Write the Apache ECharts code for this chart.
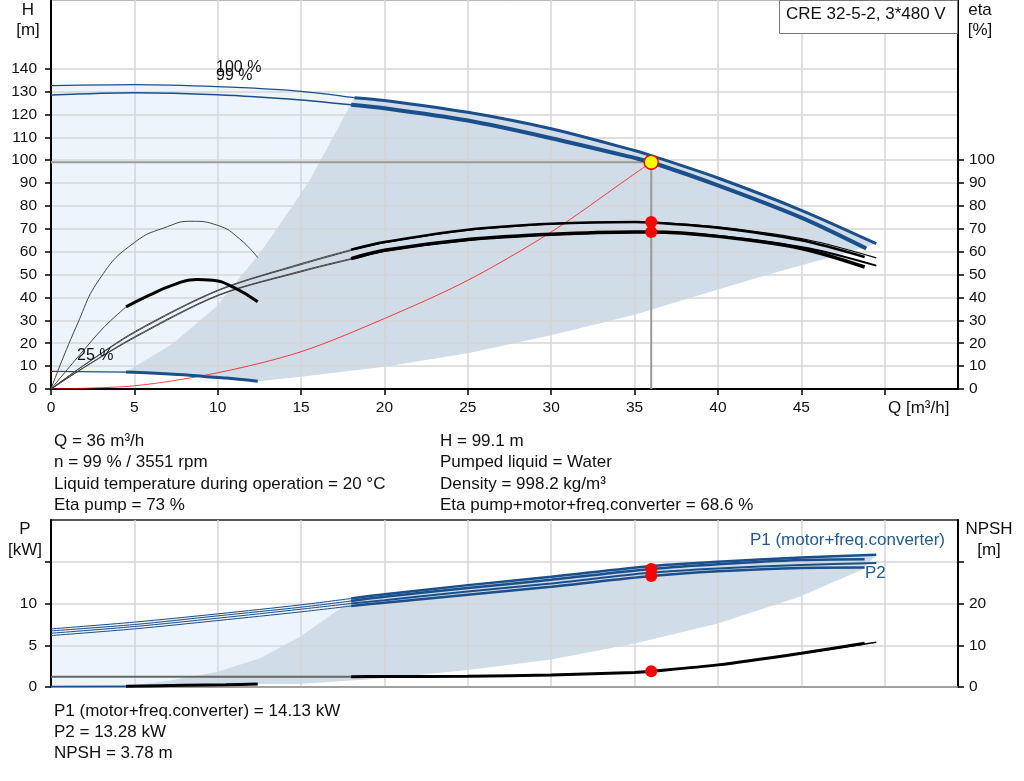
<!DOCTYPE html>
<html><head><meta charset="utf-8">
<script src="https://cdn.jsdelivr.net/npm/echarts@6/dist/echarts.min.js"></script>
<style>html,body{margin:0;padding:0;background:#fff}#c{width:1024px;height:781px}</style>
</head><body><div id="c"></div>
<script>
// ---------------- data ----------------
const qTickVals  = [0,5,10,15,20,25,30,35,40,45,50];
const qLabelVals = [0,5,10,15,20,25,30,35,40,45];
const hTicks   = [0,10,20,30,40,50,60,70,80,90,100,110,120,130,140];
const etaTicks = [0,10,20,30,40,50,60,70,80,90,100];
const pTicks = [0,5,10,15];
const pLabels = [0,5,10];
const npshTicks = [0,10,20,30];
const npshLabels = [0,10,20];

// head curves (m) at 100 % and 99 % speed
const hQ100 = [0, 5, 10, 15, 18.2, 20, 25, 30, 35, 36, 40, 45, 49.5];
const h100  = [132.6, 133.0, 132.1, 130.1, 127.3, 126.1, 120.9, 113.7, 104.2, 102.0, 92.2, 78.1, 63.5];
const hQ99  = [0, 5, 10, 15, 18, 20, 25, 30, 35, 36, 40, 45, 48.9];
const h99   = [128.5, 129.5, 128.6, 126.3, 124.2, 122.7, 117.3, 109.6, 101.0, 99.1, 89.0, 74.9, 61.4];

// efficiency curves (%)
const etaQ     = [0, 2, 5, 10, 15, 18, 20, 25, 30, 35, 36, 40, 45, 48.8];
const etaPump  = [0, 10.5, 25.0, 43.2, 54.8, 60.9, 64.2, 69.6, 72.2, 73.0, 72.8, 70.5, 65.0, 57.7];
const etaTotal = [0, 9.5, 22.8, 41.0, 51.6, 57.0, 60.6, 65.3, 67.6, 68.6, 68.6, 66.7, 61.4, 53.3];
const etaQ100     = [0, 2, 5.1, 10.1, 15.2, 18.2, 20.2, 25.3, 30.3, 35.4, 36.4, 40.4, 45.5, 49.5];
const etaPump100  = [0, 10.5, 25.0, 43.2, 54.8, 60.9, 64.2, 69.6, 72.2, 73.0, 72.8, 70.5, 65.0, 57.3];
const etaTotal100 = [0, 9.5, 22.8, 41.0, 51.6, 57.0, 60.6, 65.3, 67.6, 68.6, 68.6, 66.7, 61.4, 53.9];

// min-speed efficiency arcs
const arcThinQ  = [0, 1.5, 3, 5, 7, 8.4, 10, 11.3, 12.4];
const arcThin   = [0, 27, 49, 64, 71, 73.3, 71.5, 65.7, 57.4];
const arcLeadQ  = [0, 1.8, 3.2, 4.5];
const arcLead   = [0, 15.6, 27.2, 35.9];
const arcThickQ = [4.5, 5.9, 7.3, 8.7, 9.7, 10.9, 12.4];
const arcThick  = [35.9, 41.0, 45.4, 47.9, 47.5, 44.6, 38.1];

// 25 % speed head curve
const h25Q = [0, 4.5, 6, 8, 9.3, 10.5, 12.4];
const h25  = [7.7, 7.4, 7.0, 6.2, 5.4, 4.8, 3.4];

// system curve
const sysQ = [0, 5, 10, 15, 20, 25, 30, 34.7, 36];
const sysH = [0, 1.4, 7.1, 16.3, 30.8, 47.5, 68.6, 92.5, 99.1];

// duty point
const opQ = 36, opH = 99.1, opEtaPump = 73, opEtaTotal = 68.6;
const opP1 = 14.13, opP2 = 13.28, opNPSH = 3.78;

// operating-range areas (top chart)
const lightTopQ = [0, 0, 5, 10, 15, 18.2, 15.5, 14.3, 12.5, 9.9, 7.3, 4.5];
const lightTopH = [7.7, 132.6, 133.0, 132.1, 130.1, 127.3, 91.1, 78, 59.2, 35.9, 19.9, 7.4];
const grayTopQ = [18.2, 20, 25, 30, 35, 36, 40, 45, 49.5, 46.7, 43.5, 40, 35, 30, 25, 20, 15, 12.4, 10.5, 9.3, 8, 6, 4.5, 7.3, 9.9, 12.5, 14.3, 15.5];
const grayTopH = [127.3, 126.1, 120.9, 113.7, 104.2, 102.0, 92.2, 78.1, 63.5, 57.5, 51, 43.5, 32.5, 23.5, 15.6, 9.7, 5.4, 3.4, 4.8, 5.4, 6.2, 7.0, 7.4, 19.9, 35.9, 59.2, 78, 91.1];

// power curves (kW)
const pQ100 = [0, 5, 10, 15, 18, 20, 25, 30, 36, 40, 45, 49.5];
const pQ99  = [0, 5, 10, 15, 18, 20, 25, 30, 36, 40, 45, 48.8];
const p1_100 = [6.96, 7.77, 8.76, 9.84, 10.6, 11.1, 12.2, 13.2, 14.5, 15.0, 15.5, 15.85];
const p1_99  = [6.72, 7.48, 8.52, 9.56, 10.3, 10.8, 11.85, 12.85, 14.13, 14.7, 15.2, 15.3];
const p2_100 = [6.44, 7.24, 8.24, 9.32, 10.0, 10.4, 11.45, 12.4, 13.7, 14.2, 14.6, 14.85];
const p2_99  = [6.16, 6.96, 7.96, 9.0, 9.7, 10.1, 11.05, 12.0, 13.28, 13.85, 14.25, 14.3];
const p25Q = [0, 4.5, 8, 10.5, 12.4];
const p25  = [0.05, 0.1, 0.2, 0.28, 0.36];

// NPSH (m)
const npshQ = [0, 18, 20, 25, 30, 35, 36, 40, 45, 48.8];
const npsh  = [2.47, 2.47, 2.5, 2.6, 2.9, 3.5, 3.78, 5.3, 8.1, 10.5];
const npshEndQ = [45, 49.5];
const npshEnd  = [8.0, 10.7];

// operating-range areas (bottom chart)
const lightBotQ = [0, 0, 5, 10, 15, 18, 17.5, 14.9, 12.5, 9.9, 7.3, 4.5];
const lightBotP = [0.05, 6.96, 7.77, 8.76, 9.84, 10.6, 9.6, 6.0, 3.4, 1.8, 0.84, 0.1];
const grayBotQ = [18, 20, 25, 30, 36, 40, 45, 49.5, 48.6, 44.9, 40, 35, 30, 25, 20, 14.9, 12.4, 10.5, 8, 4.5, 7.3, 9.9, 12.5, 14.9, 17.5];
const grayBotP = [10.6, 11.1, 12.2, 13.2, 14.5, 15.0, 15.5, 15.85, 14.0, 10.8, 7.6, 5.2, 3.3, 2.04, 1.04, 0.36, 0.36, 0.28, 0.2, 0.1, 0.84, 1.8, 3.4, 6.0, 9.6];

// ---------------- helpers ----------------
const FONT = '"Liberation Sans", Arial, sans-serif';
const BLUE = '#1a4f8b';
const SPLIT = 18;
function pts(qs, vs) { return qs.map((q, i) => [q, vs[i]]); }
function seg(qs, vs, lo, hi) { return pts(qs, vs).filter(p => p[0] >= lo && p[0] <= hi); }
function line(data, color, width, xi, yi, z, smooth) {
  return { type: 'line', data: data, xAxisIndex: xi, yAxisIndex: yi, smooth: smooth === undefined ? 0.3 : smooth,
    showSymbol: false, symbol: 'none', silent: true, z: z || 3,
    lineStyle: { color: color, width: width, cap: 'butt' } };
}
function poly(qs, vs, color, xi, yi) {
  return { type: 'custom', xAxisIndex: xi, yAxisIndex: yi, z: -1, silent: true,
    data: [[qs[0], vs[0]]],
    renderItem: function (params, api) {
      const p = qs.map((q, i) => api.coord([q, vs[i]]));
      return { type: 'polygon', shape: { points: p }, style: { fill: color } };
    } };
}
function dot(x, y, xi, yi, size, color, border) {
  return { type: 'scatter', xAxisIndex: xi, yAxisIndex: yi, z: 8, silent: true,
    symbolSize: size, data: [[x, y]],
    itemStyle: { color: color, borderColor: border || color, borderWidth: border ? 1.5 : 0, opacity: 1 } };
}
function txt(x, y, s, opts) {
  opts = opts || {};
  return { type: 'text', x: x, y: y, z: 100, silent: true,
    style: { text: s, font: (opts.size || 17) + 'px ' + FONT, fill: opts.color || '#111',
      align: opts.align || 'left', verticalAlign: 'middle' } };
}

const series = [
  // areas
  poly(lightTopQ, lightTopH, '#edf4fc', 0, 0),
  poly(grayTopQ, grayTopH, '#d0dce7', 0, 0),
  poly(lightBotQ, lightBotP, '#edf4fc', 1, 2),
  poly(grayBotQ, grayBotP, '#d0dce7', 1, 2),

  // system curve
  line(pts(sysQ, sysH), 'rgba(255,0,0,0.75)', 1, 0, 0, 3),
  // duty lines
  line([[0, opH], [opQ, opH]], '#9a9a9a', 2, 0, 0, 3, false),
  line([[opQ, 0], [opQ, opH]], '#9a9a9a', 2, 0, 0, 3, false),

  // head curves
  line(seg(hQ100, h100, 0, 18.2), BLUE, 1.3, 0, 0, 4),
  line(seg(hQ100, h100, 18.2, 60), BLUE, 3, 0, 0, 4),
  line(seg(hQ99, h99, 0, SPLIT), BLUE, 1.5, 0, 0, 4),
  line(seg(hQ99, h99, SPLIT, 60), BLUE, 4, 0, 0, 4),
  line(seg(h25Q, h25, 0, 4.5), BLUE, 1.2, 0, 0, 4),
  line(seg(h25Q, h25, 4.5, 20), BLUE, 3, 0, 0, 4),

  // efficiency curves
  line(seg(etaQ100, etaPump100, 0, 18.2), '#444', 1, 0, 1, 4),
  line(seg(etaQ100, etaTotal100, 0, 18.2), '#444', 1, 0, 1, 4),
  line(seg(etaQ, etaPump, 0, SPLIT), '#444', 1, 0, 1, 4),
  line(seg(etaQ, etaTotal, 0, SPLIT), '#444', 1, 0, 1, 4),
  line(seg(etaQ100, etaPump100, 18.2, 60), '#000', 1.2, 0, 1, 4),
  line(seg(etaQ100, etaTotal100, 18.2, 60), '#000', 1.8, 0, 1, 4),
  line(seg(etaQ, etaPump, SPLIT, 60), '#000', 2.5, 0, 1, 4),
  line(seg(etaQ, etaTotal, SPLIT, 60), '#000', 3.5, 0, 1, 4),
  line(pts(arcThinQ, arcThin), '#444', 1, 0, 1, 4, 0.5),
  line(pts(arcLeadQ, arcLead), '#444', 1, 0, 1, 4),
  line(pts(arcThickQ, arcThick), '#000', 3, 0, 1, 4, 0.5),

  // duty points top
  dot(opQ, opEtaPump, 0, 1, 12, '#ff0000'),
  dot(opQ, opEtaTotal, 0, 1, 12, '#ff0000'),
  dot(opQ, opH, 0, 0, 14, '#ffff00', '#ff0000'),

  // power curves
  line(seg(pQ100, p1_100, 0, SPLIT), BLUE, 1, 1, 2, 4),
  line(seg(pQ99, p1_99, 0, SPLIT), BLUE, 1, 1, 2, 4),
  line(seg(pQ100, p2_100, 0, SPLIT), BLUE, 1, 1, 2, 4),
  line(seg(pQ99, p2_99, 0, SPLIT), BLUE, 1, 1, 2, 4),
  line(seg(pQ100, p1_100, SPLIT, 60), BLUE, 2.5, 1, 2, 4),
  line(seg(pQ99, p1_99, SPLIT, 60), BLUE, 2.5, 1, 2, 4),
  line(seg(pQ100, p2_100, SPLIT, 60), BLUE, 2, 1, 2, 4),
  line(seg(pQ99, p2_99, SPLIT, 60), BLUE, 2.5, 1, 2, 4),
  line(seg(p25Q, p25, 0, 4.5), BLUE, 1.5, 1, 2, 4),
  line(seg(p25Q, p25, 4.5, 20), '#000', 3, 1, 2, 4),

  // NPSH
  line(seg(npshQ, npsh, 0, SPLIT), '#666', 2, 1, 3, 4),
  line(seg(npshQ, npsh, SPLIT, 60), '#000', 3, 1, 3, 4),
  line(pts(npshEndQ, npshEnd), '#000', 1.5, 1, 3, 4),

  // duty points bottom
  dot(opQ, opP1, 1, 2, 12, '#ff0000'),
  dot(opQ, opP2, 1, 2, 12, '#ff0000'),
  dot(opQ, opNPSH, 1, 3, 12, '#ff0000')
];

const axisLbl = { fontSize: 15.5, color: '#111', fontFamily: FONT };
const option = {
  animation: false,
  backgroundColor: '#fff',
  grid: [
    { left: 51, top: 0, width: 907, height: 389, show: true, borderColor: '#777', borderWidth: 1, backgroundColor: 'transparent' },
    { left: 51, top: 520, width: 907, height: 167, show: true, borderColor: '#222', borderWidth: 1.5, backgroundColor: 'transparent' }
  ],
  xAxis: [
    { gridIndex: 0, type: 'value', min: 0, max: 54.4, interval: 5,
      axisLine: { lineStyle: { color: '#000', width: 2 } },
      axisTick: { length: 6, lineStyle: { color: '#000', width: 1.5 }, customValues: qTickVals },
      axisLabel: Object.assign({ margin: 11, customValues: qLabelVals }, axisLbl),
      splitLine: { lineStyle: { color: '#d6d6d6', width: 1.5 } } },
    { gridIndex: 1, type: 'value', min: 0, max: 54.4, interval: 5,
      axisLine: { lineStyle: { color: '#999', width: 1.5 } },
      axisTick: { show: false }, axisLabel: { show: false },
      splitLine: { lineStyle: { color: '#d6d6d6', width: 1.5 } } }
  ],
  yAxis: [
    { gridIndex: 0, type: 'value', min: 0, max: 170, interval: 10, position: 'left',
      axisLine: { show: true, lineStyle: { color: '#000', width: 2 } },
      axisTick: { show: true, length: 6, lineStyle: { color: '#000', width: 1.5 }, customValues: hTicks },
      axisLabel: Object.assign({ margin: 14, customValues: hTicks }, axisLbl),
      splitLine: { lineStyle: { color: '#d6d6d6', width: 1.5 } } },
    { gridIndex: 0, type: 'value', min: 0, max: 170, interval: 10, position: 'right',
      axisLine: { show: true, lineStyle: { color: '#000', width: 2 } },
      axisTick: { show: true, length: 6, lineStyle: { color: '#000', width: 1.5 }, customValues: etaTicks },
      axisLabel: Object.assign({ margin: 11, customValues: etaTicks }, axisLbl),
      splitLine: { show: false } },
    { gridIndex: 1, type: 'value', min: 0, max: 20, interval: 5, position: 'left',
      axisLine: { show: true, lineStyle: { color: '#000', width: 2 } },
      axisTick: { show: true, length: 6, lineStyle: { color: '#000', width: 1.5 }, customValues: pTicks },
      axisLabel: Object.assign({ margin: 14, customValues: pLabels }, axisLbl),
      splitLine: { lineStyle: { color: '#d6d6d6', width: 1.5 } } },
    { gridIndex: 1, type: 'value', min: 0, max: 40, interval: 10, position: 'right',
      axisLine: { show: true, lineStyle: { color: '#000', width: 2 } },
      axisTick: { show: true, length: 6, lineStyle: { color: '#000', width: 1.5 }, customValues: npshTicks },
      axisLabel: Object.assign({ margin: 11, customValues: npshLabels }, axisLbl),
      splitLine: { show: false } }
  ],
  series: series,
  graphic: [
    { type: 'rect', z: 99, silent: true, shape: { x: 779.5, y: 0.5, width: 178, height: 33 },
      style: { fill: '#fff', stroke: '#777', lineWidth: 1 } },
    txt(786, 14, 'CRE 32-5-2, 3*480 V'),
    txt(28, 10, 'H', { align: 'center' }),
    txt(28, 30, '[m]', { align: 'center' }),
    txt(980, 10, 'eta', { align: 'center' }),
    txt(980, 30, '[%]', { align: 'center' }),
    txt(25, 529, 'P', { align: 'center' }),
    txt(25, 550, '[kW]', { align: 'center' }),
    txt(989, 529, 'NPSH', { align: 'center' }),
    txt(989, 550, '[m]', { align: 'center' }),
    txt(888, 408, 'Q [m³/h]'),
    txt(216, 68, '100 %', { size: 16 }),
    txt(216, 76, '99 %', { size: 16 }),
    txt(77, 356, '25 %', { size: 16 }),
    txt(945, 540, 'P1 (motor+freq.converter)', { align: 'right', color: '#1f5a96' }),
    txt(865, 573, 'P2', { color: '#1f5a96' }),
    txt(54, 441, 'Q = 36 m³/h'),
    txt(54, 462, 'n = 99 % / 3551 rpm'),
    txt(54, 484, 'Liquid temperature during operation = 20 °C'),
    txt(54, 505, 'Eta pump = 73 %'),
    txt(440, 441, 'H = 99.1 m'),
    txt(440, 462, 'Pumped liquid = Water'),
    txt(440, 484, 'Density = 998.2 kg/m³'),
    txt(440, 505, 'Eta pump+motor+freq.converter = 68.6 %'),
    txt(54, 711, 'P1 (motor+freq.converter) = 14.13 kW'),
    txt(54, 732, 'P2 = 13.28 kW'),
    txt(54, 753, 'NPSH = 3.78 m')
  ]
};
const chart = echarts.init(document.getElementById('c'), null, { renderer: 'canvas' });
chart.setOption(option);
</script>
</body></html>
